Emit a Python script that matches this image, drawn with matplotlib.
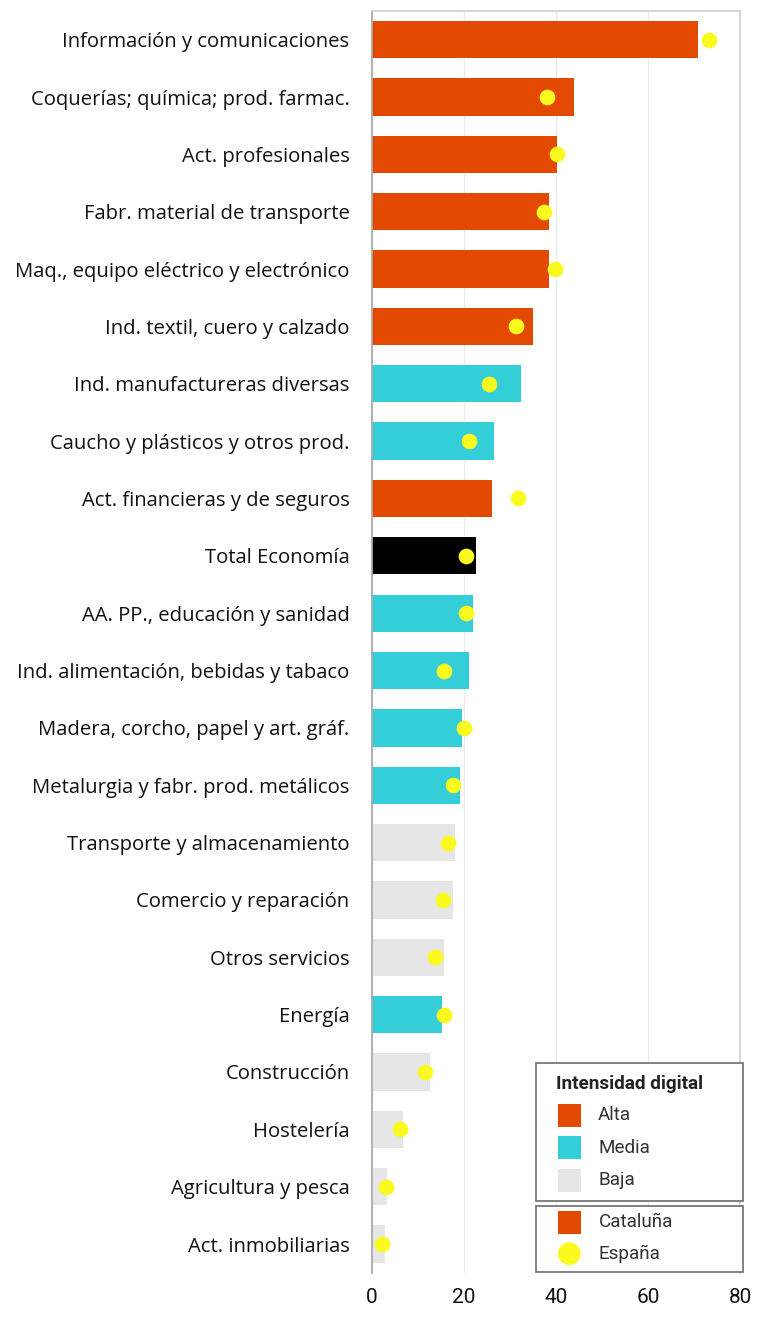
import matplotlib
matplotlib.use("Agg")
import matplotlib.pyplot as plt
from matplotlib.patches import Rectangle, Ellipse

categories = [
    "Información y comunicaciones",
    "Coquerías; química; prod. farmac.",
    "Act. profesionales",
    "Fabr. material de transporte",
    "Maq., equipo eléctrico y electrónico",
    "Ind. textil, cuero y calzado",
    "Ind. manufactureras diversas",
    "Caucho y plásticos y otros prod.",
    "Act. financieras y de seguros",
    "Total Economía",
    "AA. PP., educación y sanidad",
    "Ind. alimentación, bebidas y tabaco",
    "Madera, corcho, papel y art. gráf.",
    "Metalurgia y fabr. prod. metálicos",
    "Transporte y almacenamiento",
    "Comercio y reparación",
    "Otros servicios",
    "Energía",
    "Construcción",
    "Hostelería",
    "Agricultura y pesca",
    "Act. inmobiliarias",
]
cataluna = [70.9, 44.0, 40.2, 38.6, 38.6, 35.1, 32.4, 26.5, 26.2, 22.6, 22.0,
            21.2, 19.6, 19.2, 18.0, 17.7, 15.7, 15.3, 12.6, 6.8, 3.3, 2.9]
espana = [73.3, 38.0, 40.3, 37.5, 39.9, 31.4, 25.5, 21.2, 31.7, 20.5, 20.4,
          15.8, 20.1, 17.7, 16.6, 15.4, 13.8, 15.8, 11.5, 6.1, 3.0, 2.2]
intensidad = ["Alta", "Alta", "Alta", "Alta", "Alta", "Alta", "Media", "Media",
              "Alta", "Total", "Media", "Media", "Media", "Media", "Baja", "Baja",
              "Baja", "Media", "Baja", "Baja", "Baja", "Baja"]
x_ticks = [0, 20, 40, 60, 80]
legend_levels = ["Alta", "Media", "Baja"]
legend_series = ["Cataluña", "España"]

colors = {"Alta": "#E34A00", "Media": "#33CED8", "Baja": "#E6E6E6", "Total": "#000000"}
yellow = "#FAFA1E"

W, H = 767, 1319
fig = plt.figure(figsize=(W / 100, H / 100), dpi=100)
ax = fig.add_axes([371.7 / W, 1 - 1272.7 / H, (740 - 371.7) / W, (1272.7 - 11) / H])

ypos = list(range(len(categories)))
ax.barh(ypos, cataluna, height=0.65, color=[colors[c] for c in intensidad], zorder=2)
ax.plot(espana, ypos, linestyle="none", marker="o", markersize=11.3,
        markerfacecolor=yellow, markeredgewidth=0, zorder=3)

ax.set_xlim(0, 80)
ax.set_ylim(len(categories) - 0.5, -0.5)
ax.set_xticks(x_ticks)
ax.set_xticklabels([str(t) for t in x_ticks], fontfamily="Roboto", fontsize=15, color="#111111")
ax.set_yticks(ypos)
ax.set_yticklabels(categories, fontfamily="Open Sans", fontsize=14.55, color="#111111")
ax.tick_params(axis="y", length=0, pad=16)
ax.tick_params(axis="x", length=0, pad=11)
ax.grid(axis="x", color="#EBEBEB", linewidth=1, zorder=0)
ax.set_axisbelow(True)
for side, sp in ax.spines.items():
    sp.set_linewidth(1.3)
    sp.set_color("#D2D2D2")
ax.spines["left"].set_color("#AAAAAA")
ax.spines["bottom"].set_visible(False)


# ---- legends drawn in figure pixel coordinates ----
def fx(px):
    return px / W


def fy(py):
    return 1 - py / H


def frame(x0, y0, x1, y1):
    fig.add_artist(Rectangle((fx(x0), fy(y1)), fx(x1) - fx(x0), fy(y0) - fy(y1),
                             transform=fig.transFigure, facecolor="white",
                             edgecolor="#777777", linewidth=1.3, zorder=5))


def square(cx, cy, color, size=23):
    fig.add_artist(Rectangle((fx(cx - size / 2), fy(cy + size / 2)), size / W, size / H,
                             transform=fig.transFigure, facecolor=color,
                             edgecolor="none", zorder=6))


lfs = 13.6
frame(536, 1062.7, 743.3, 1200.7)
fig.text(fx(556.5), fy(1084), "Intensidad digital", fontfamily="Roboto", fontsize=lfs,
         fontweight="bold", color="#222222", va="center", ha="left", zorder=7)
for i, lev in enumerate(legend_levels):
    cy = 1115.3 + 32.5 * i
    square(569.3, cy, colors[lev])
    fig.text(fx(598), fy(cy), lev, fontfamily="Roboto", fontsize=lfs,
             color="#333333", va="center", ha="left", zorder=7)

frame(536, 1206, 743.3, 1271.7)
square(569.3, 1222.3, colors["Alta"])
fig.add_artist(Ellipse((fx(569.3), fy(1253.7)), 22.7 / W, 22.7 / H,
                       transform=fig.transFigure, facecolor=yellow,
                       edgecolor="none", zorder=6))
for cy, lab in zip([1222.3, 1253.7], legend_series):
    fig.text(fx(599), fy(cy), lab, fontfamily="Roboto", fontsize=lfs,
             color="#333333", va="center", ha="left", zorder=7)

fig.savefig("out.png", dpi=100, facecolor="white")
